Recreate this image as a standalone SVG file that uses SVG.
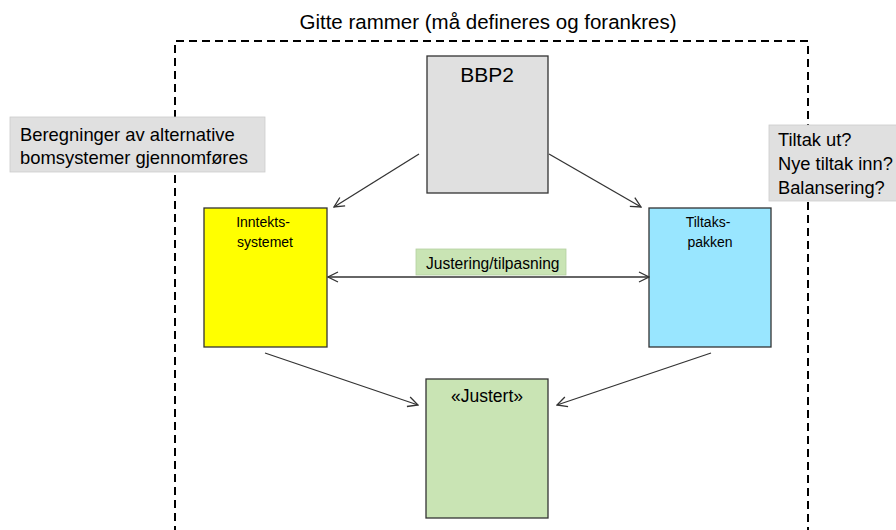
<svg xmlns="http://www.w3.org/2000/svg" width="896" height="530" viewBox="0 0 896 530">
<style>
text{font-family:"Liberation Sans",Arial,sans-serif;fill:#000}
.box{stroke:#333;stroke-width:1.3}
.con{stroke:#333;stroke-width:1.3;fill:none}
</style>
<defs>
<marker id="ah" viewBox="0 0 12 12" refX="11" refY="6" markerWidth="12" markerHeight="12" markerUnits="userSpaceOnUse" orient="auto-start-reverse">
<path d="M1,1 L11,6 L1,11" fill="none" stroke="#333" stroke-width="1.3"/>
</marker>
</defs>
<rect width="896" height="530" fill="#fff"/>
<text x="488" y="29" font-size="20.5" text-anchor="middle">Gitte rammer (må defineres og forankres)</text>
<path d="M175,560 V41 H808 V560" fill="none" stroke="#000" stroke-width="2" stroke-dasharray="8,5"/>
<g id="calc">
<rect x="10" y="117" width="255" height="55" fill="#e0e0e0" stroke="#ccc" stroke-width="0.8"/>
<text x="20" y="141" font-size="18.4">Beregninger av alternative</text>
<text x="20" y="164" font-size="18.4">bomsystemer gjennomføres</text>
</g>
<g id="questions">
<rect x="769" y="125" width="130" height="76" fill="#e0e0e0" stroke="#ccc" stroke-width="0.8"/>
<text x="778" y="146" font-size="18.3">Tiltak ut?</text>
<text x="778" y="170" font-size="18.3">Nye tiltak inn?</text>
<text x="778" y="194" font-size="18.3">Balansering?</text>
</g>
<g id="bbp2">
<rect class="box" x="427" y="56" width="121" height="137" fill="#e0e0e0"/>
<text x="487" y="82" font-size="21" text-anchor="middle">BBP2</text>
</g>
<g id="inntekt">
<rect class="box" x="204" y="208" width="123" height="139" fill="#ffff00"/>
<text x="263" y="227" font-size="14" text-anchor="middle">Inntekts-</text>
<text x="265" y="247" font-size="14" text-anchor="middle">systemet</text>
</g>
<g id="tiltak">
<rect class="box" x="649" y="208" width="122" height="139" fill="#99e6ff"/>
<text x="708" y="227" font-size="14" text-anchor="middle">Tiltaks-</text>
<text x="710" y="247" font-size="14" text-anchor="middle">pakken</text>
</g>
<g id="justert">
<rect class="box" x="426" y="379" width="122" height="139" fill="#c9e4b4"/>
<text x="487" y="402" font-size="17.5" text-anchor="middle">«Justert»</text>
</g>
<g id="justering-label">
<rect x="416" y="249" width="150" height="26" fill="#c9e4b4" stroke="#b5cfa0" stroke-width="0.8"/>
<text x="426" y="269" font-size="15.6">Justering/tilpasning</text>
</g>
<g id="connectors">
<line class="con" x1="419" y1="154" x2="334" y2="207" marker-end="url(#ah)"/>
<line class="con" x1="549" y1="154" x2="641" y2="207" marker-end="url(#ah)"/>
<line class="con" x1="328" y1="277" x2="649" y2="277" marker-start="url(#ah)" marker-end="url(#ah)"/>
<line class="con" x1="265" y1="353" x2="418" y2="405" marker-end="url(#ah)"/>
<line class="con" x1="711" y1="353" x2="557" y2="405" marker-end="url(#ah)"/>
</g>
</svg>
